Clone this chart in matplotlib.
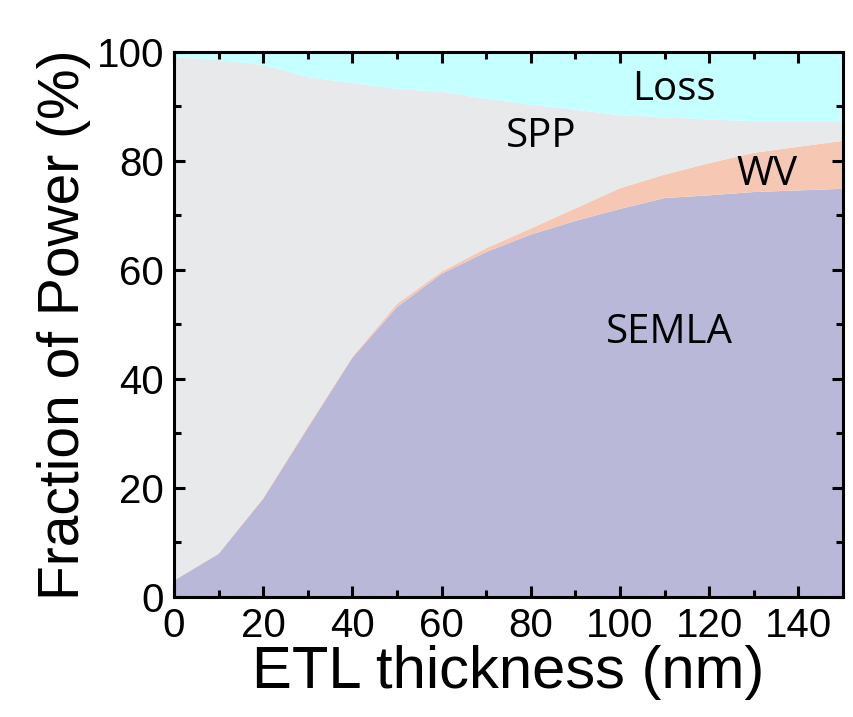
import numpy as np
import matplotlib.pyplot as plt
from matplotlib.ticker import MultipleLocator

# ETL thickness (nm)
thickness = [0, 10, 20, 30, 40, 50, 60, 70, 80, 90, 100, 110, 120, 130, 140, 150]
# cumulative boundaries (%)
semla_top = [3.0, 7.9, 18.0, 31.0, 43.9, 53.2, 59.3, 63.3, 66.5, 69.0, 71.2, 73.2, 73.7, 74.3, 74.6, 74.9]
wv_top = [3.1, 8.0, 18.2, 31.3, 44.1, 53.8, 59.7, 64.0, 67.6, 71.3, 75.0, 77.5, 79.6, 81.5, 82.6, 83.7]
spp_top = [99.1, 98.5, 97.6, 95.4, 94.3, 93.2, 92.7, 91.4, 90.3, 89.4, 88.4, 88.0, 87.6, 87.3, 87.3, 87.3]
loss_top = [100.0] * len(thickness)

x = np.array(thickness)
semla = np.array(semla_top)
wv = np.array(wv_top) - semla
spp = np.array(spp_top) - np.array(wv_top)
loss = np.array(loss_top) - np.array(spp_top)

colors = ['#b9b8d9', '#f6c8b4', '#e8e9eb', '#c6ffff']

fig = plt.figure(figsize=(8.54, 7.17), dpi=100)
ax = fig.add_axes([0.2037, 0.1674, 0.7833, 0.7601])
ax.stackplot(x, semla, wv, spp, loss, colors=colors, linewidth=0)

ax.set_xlim(0, 150)
ax.set_ylim(0, 100)
ax.xaxis.set_major_locator(MultipleLocator(20))
ax.xaxis.set_minor_locator(MultipleLocator(10))
ax.yaxis.set_major_locator(MultipleLocator(20))
ax.yaxis.set_minor_locator(MultipleLocator(10))
ax.tick_params(which='both', direction='in', top=True, right=True, width=2.2)
ax.tick_params(which='major', length=8, labelsize=29, pad=7)
ax.tick_params(which='minor', length=5)
for lab in ax.get_xticklabels() + ax.get_yticklabels():
    lab.set_fontfamily('Liberation Sans')
for s in ax.spines.values():
    s.set_linewidth(2.2)

ax.set_xlabel('ETL thickness (nm)', fontsize=43, family='Liberation Sans', labelpad=0)
ax.set_ylabel('Fraction of Power (%)', fontsize=41, family='Liberation Sans', labelpad=4)

lbl = dict(fontsize=29, family='Open Sans', ha='center', va='center', color='black')
ax.text(112, 93.0, 'Loss', **lbl)
ax.text(82.3, 84.4, 'SPP', **lbl)
ax.text(133, 77.4, 'WV', **lbl)
ax.text(111.2, 48.4, 'SEMLA', **lbl)

fig.savefig('out.png', dpi=100)
